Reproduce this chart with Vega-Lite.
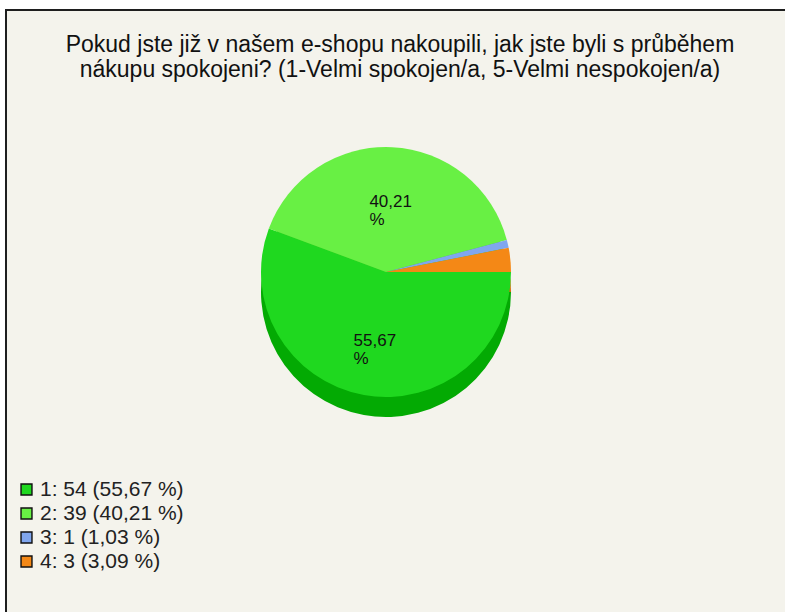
{
  "$schema": "https://vega.github.io/schema/vega-lite/v6.json",
  "autosize": "none",
  "width": 800,
  "height": 620,
  "padding": {"left": 6, "top": 10, "right": 0, "bottom": 0},
  "background": "#ffffff",
  "view": {"fill": "#f4f3ec", "stroke": "#1e1e1e", "strokeWidth": 2},
  "config": {
    "font": "Liberation Sans"
  },
  "title": {
    "text": ["Pokud jste již v našem e-shopu nakoupili, jak jste byli s průběhem", "nákupu spokojeni? (1-Velmi spokojen/a, 5-Velmi nespokojen/a)"],
    "anchor": "start",
    "frame": "group",
    "orient": "top",
    "offset": 0,
    "dx": 394,
    "align": "center",
    "baseline": "alphabetic",
    "dy": 90,
    "font": "Liberation Sans",
    "fontSize": 23,
    "fontWeight": "normal",
    "color": "#111111",
    "lineHeight": 25
  },
  "data": {
    "values": [
      {"id": 1, "count": 54, "pct": 55.67, "legend": "1: 54 (55,67 %)", "plabel": "55,67\n%"},
      {"id": 2, "count": 39, "pct": 40.21, "legend": "2: 39 (40,21 %)", "plabel": "40,21\n%"},
      {"id": 3, "count": 1, "pct": 1.03, "legend": "3: 1 (1,03 %)", "plabel": ""},
      {"id": 4, "count": 3, "pct": 3.09, "legend": "4: 3 (3,09 %)", "plabel": ""}
    ]
  },
  "encoding": {
    "theta": {"field": "count", "type": "quantitative", "stack": true, "scale": {"range": [1.5708, 7.854]}},
    "order": {"field": "id", "type": "quantitative", "sort": "ascending"}
  },
  "resolve": {"scale": {"color": "independent"}, "legend": {"color": "independent"}},
  "layer": [
    {
      "mark": {"type": "arc", "radius": 125, "x": 380, "y": 262, "yOffset": 20},
      "encoding": {
        "color": {"field": "legend", "type": "nominal", "legend": null,
          "scale": {"domain": ["1: 54 (55,67 %)", "2: 39 (40,21 %)", "3: 1 (1,03 %)", "4: 3 (3,09 %)"],
                    "range": ["#03aa03", "#44c822", "#5a80cc", "#d06c06"]}}
      }
    },
    {
      "mark": {"type": "arc", "radius": 125, "x": 380, "y": 262},
      "encoding": {
        "color": {"field": "legend", "type": "nominal",
          "scale": {"domain": ["1: 54 (55,67 %)", "2: 39 (40,21 %)", "3: 1 (1,03 %)", "4: 3 (3,09 %)"],
                    "range": ["#1fd81f", "#68f044", "#80a6ee", "#f48816"]},
          "legend": {
            "title": null, "orient": "none", "legendX": 10, "legendY": 469,
            "symbolType": "square", "symbolSize": 120, "symbolOpacity": 1,
            "labelFont": "Liberation Sans", "labelFontSize": 21, "labelColor": "#222222",
            "rowPadding": 2, "labelOffset": 3,
            "encode": {
              "symbols": {"update": {"stroke": {"value": "#111111"}, "strokeWidth": {"value": 1.4}}}
            }
          }}
      }
    },
    {
      "mark": {"type": "text", "radius": 70, "x": 380, "y": 262, "align": "left", "dx": -20, "lineBreak": "\n", "lineHeight": 18, "fontSize": 17, "font": "Liberation Sans", "color": "#111111"},
      "encoding": {
        "text": {"field": "plabel", "type": "nominal"}
      }
    }
  ]
}
